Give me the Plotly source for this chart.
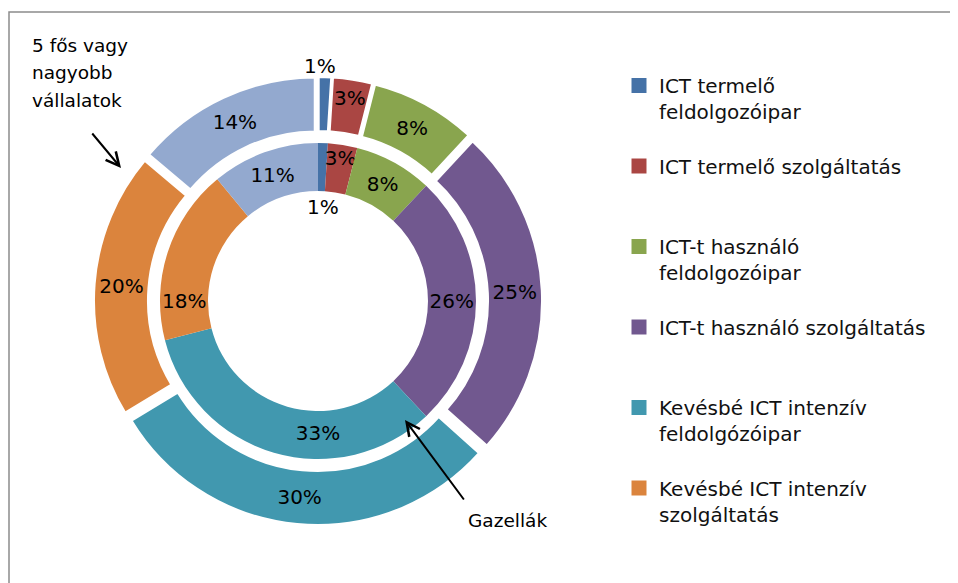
import plotly.graph_objects as go

categories = ["ICT termelő feldolgozóipar", "ICT termelő szolgáltatás",
              "ICT-t használó feldolgozóipar", "ICT-t használó szolgáltatás",
              "Kevésbé ICT intenzív feldolgózóipar", "Kevésbé ICT intenzív szolgáltatás",
              "Egyéb"]
legend_names = ["ICT termelő<br>feldolgozóipar", "ICT termelő szolgáltatás<br> ",
                "ICT-t használó<br>feldolgozóipar", "ICT-t használó szolgáltatás<br> ",
                "Kevésbé ICT intenzív<br>feldolgózóipar", "Kevésbé ICT intenzív<br>szolgáltatás"]
outer_values = [1, 3, 8, 25, 30, 20, 14]   # 5 fős vagy nagyobb vállalatok
inner_values = [1, 3, 8, 26, 33, 18, 11]   # Gazellák
colors = ["#4572A7", "#AA4643", "#89A54E", "#71588F", "#4198AF", "#DB843D", "#93A9CF"]
series_label_lines = ["5 fős vagy", "nagyobb", "vállalatok"]
inner_series_label = "Gazellák"

OFF = 8  # page body margin
W, H = 950, 575
FONT = "DejaVu Sans, sans-serif"
cx, cy = 318 - OFF, 301 - OFF  # px from top-left of figure
cyb = H - cy

def dom(half, pull=0.0):
    h = half * (1 + pull)
    return dict(x=[(cx - h) / W, (cx + h) / W], y=[(cyb - h) / H, (cyb + h) / H])

def px(x, y):
    """page pixel -> paper coords"""
    return (x - OFF) / W, 1 - (y - OFF) / H

fig = go.Figure()

outer_pull = 0.03
fig.add_trace(go.Pie(
    values=outer_values, labels=categories, sort=False, direction="clockwise",
    rotation=0, hole=163 / 218, domain=dom(218, outer_pull), pull=outer_pull,
    marker=dict(colors=colors, line=dict(color="white", width=3)),
    text=[f"{v}%" for v in outer_values], textinfo="text",
    textposition=["none"] + ["inside"] * 6, insidetextorientation="horizontal",
    textfont=dict(family=FONT, size=20, color="black"), showlegend=False,
    hoverinfo="label+text",
))
fig.add_trace(go.Pie(
    values=inner_values, labels=categories, sort=False, direction="clockwise",
    rotation=0, hole=110 / 158, domain=dom(158),
    marker=dict(colors=colors, line=dict(color="white", width=0)),
    text=[f"{v}%" for v in inner_values], textinfo="text",
    textposition=["none"] + ["inside"] * 6, insidetextorientation="horizontal",
    textfont=dict(family=FONT, size=20, color="black"), showlegend=False,
    hoverinfo="label+text",
))

for name, col in zip(legend_names, colors[:6]):
    fig.add_trace(go.Scatter(x=[None], y=[None], mode="markers", name=name,
                             legendgroup=name,
                             marker=dict(symbol="square", size=15, color=col)))

annotations = []

def txt(xp, yp, text, size=20, xanchor="center"):
    x, y = px(xp, yp)
    annotations.append(dict(x=x, y=y, xref="paper", yref="paper", text=text,
                            xanchor=xanchor, yanchor="middle", showarrow=False,
                            font=dict(family=FONT, size=size, color="black")))

# small 1% labels
txt(320, 66, f"{outer_values[0]}%")
txt(323, 207, f"{inner_values[0]}%")
# series labels
for i, line in enumerate(series_label_lines):
    txt(30, 45 + i * 27.5, line, size=18.5, xanchor="left")
txt(466, 520, inner_series_label, size=18.5, xanchor="left")

# arrows
x, y = px(121, 168)
annotations.append(dict(x=x, y=y, xref="paper", yref="paper", ax=-30, ay=-36, text="",
                        showarrow=True, arrowhead=5, arrowsize=1.3, arrowwidth=2, arrowcolor="black"))
x, y = px(405, 420)
annotations.append(dict(x=x, y=y, xref="paper", yref="paper", ax=60, ay=81, text="",
                        showarrow=True, arrowhead=5, arrowsize=1.3, arrowwidth=2, arrowcolor="black"))

lx, ly = px(619, 66)
fig.update_layout(
    width=W, height=H, margin=dict(l=0, r=0, t=0, b=0),
    paper_bgcolor="white", plot_bgcolor="white",
    xaxis=dict(visible=False), yaxis=dict(visible=False),
    showlegend=True,
    legend=dict(x=lx, y=ly, xanchor="left", yanchor="top", valign="top",
                font=dict(family=FONT, size=20, color="#111"), tracegroupgap=25.5,
                itemsizing="trace", bgcolor="rgba(0,0,0,0)"),
    uniformtext=dict(minsize=20, mode="show"),
    annotations=annotations,
    shapes=[dict(type="rect", xref="paper", yref="paper", x0=(9 - OFF) / W, x1=1.05,
                 y0=-0.05, y1=1 - (12 - OFF) / H, line=dict(color="#8c8c8c", width=1.5))],
)

fig.write_html("out.html")
